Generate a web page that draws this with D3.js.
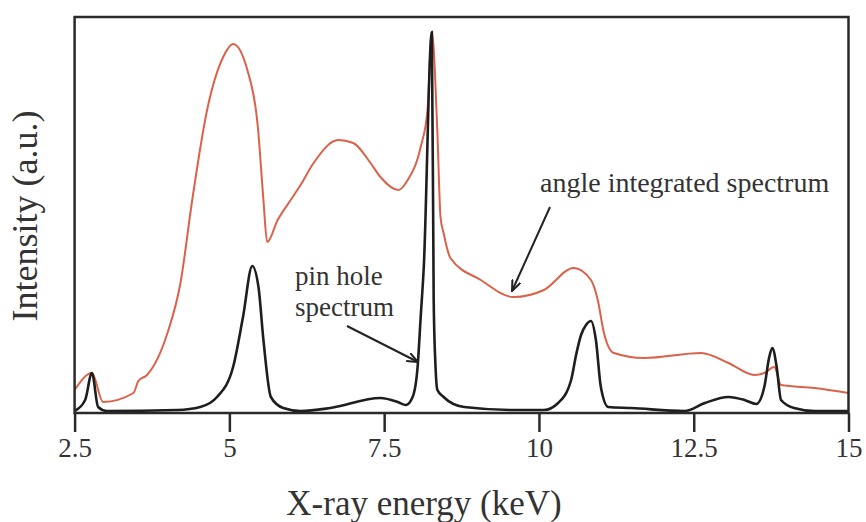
<!DOCTYPE html>
<html>
<head>
<meta charset="utf-8">
<script src="https://cdn.jsdelivr.net/npm/d3@7"></script>
<style>
  body { margin: 0; background: #fff; }
  text { font-family: "Liberation Serif", "DejaVu Serif", serif; fill: #333; }
</style>
</head>
<body>
<svg id="chart" width="866" height="522"></svg>
<script>
// ----- data -----
const xTicks = [2.5, 5, 7.5, 10, 12.5, 15];
const xTickLabels = ["2.5", "5", "7.5", "10", "12.5", "15"];

// angle integrated spectrum (red)
const angleE = [2.5, 2.78, 2.96, 3.45, 3.53, 3.67, 4.0, 4.21, 4.4, 4.64, 4.9, 5.06, 5.29, 5.46, 5.55, 5.61,
  5.78, 5.99, 6.15, 6.36, 6.76, 7.0, 7.28, 7.44, 7.73, 7.88, 8.09, 8.2, 8.27, 8.36, 8.41, 8.46, 8.57,
  9.06, 9.59, 10.08, 10.56, 10.84, 10.95, 11.05, 11.21, 11.7, 12.62, 13.06, 13.48, 13.64, 13.8, 13.91, 14.45, 15.0];
const angleI = [5.25, 9.5, 2.25, 4.5, 7.5, 9, 19.5, 32, 52.75, 75.25, 88.5, 91.75, 85.25, 71, 52.75, 42.25,
  47.75, 52.75, 56.5, 62, 67.75, 67, 62, 58.5, 55.25, 57.75, 66, 75.25, 94.75, 69.5, 48.5, 44.5, 38.25,
  32.75, 28.5, 30.25, 35.75, 32.75, 27.75, 19.5, 14.5, 13.25, 14.5, 12, 9, 9.5, 11, 6.5, 5.75, 4.5];

// pin hole spectrum (black)
const pinE = [2.5, 2.67, 2.78, 2.88, 3.02, 4.16, 4.53, 4.8, 5.06, 5.22, 5.37, 5.47, 5.55, 5.67, 5.87, 6.15,
  6.63, 7.44, 7.72, 7.85, 7.96, 8.04, 8.09, 8.14, 8.27, 8.3, 8.33, 8.36, 8.46, 8.79, 9.59, 10.08, 10.31,
  10.52, 10.6, 10.68, 10.76, 10.84, 10.92, 11.0, 11.12, 11.49, 12.35, 12.68, 13.06, 13.32, 13.51, 13.64,
  13.72, 13.77, 13.84, 13.91, 14.12, 14.45, 15.0];
const pinI = [0, 2.75, 9.5, 1, 0, 0.25, 1, 3.5, 11, 23.5, 36.25, 31, 17.75, 3.5, 0.75, 0,
  0.75, 3.25, 2.25, 1.5, 3.5, 11, 23.5, 36, 94.75, 27.75, 11, 5.25, 3.5, 1, 0.25, 0.25, 2,
  7.75, 14, 19, 21.5, 22.5, 17.75, 6, 1, 0.75, 0, 2, 3.5, 2.75, 1.75, 6,
  13.5, 15.75, 11, 2.75, 0.75, 0, 0];

const svg = d3.select("#chart");
const x = d3.scaleLinear().domain([2.5, 15]).range([74.6, 848.5]);
const y = d3.scaleLinear().domain([-0.5, 98.5]).range([413, 17]);

// arrow marker (open chevron)
svg.append("defs").append("marker")
  .attr("id", "arr")
  .attr("viewBox", "0 0 12 10")
  .attr("refX", 11).attr("refY", 5)
  .attr("markerWidth", 12).attr("markerHeight", 10)
  .attr("markerUnits", "userSpaceOnUse")
  .attr("orient", "auto")
  .append("path")
  .attr("d", "M0,0.5 L11,5 L0,9.5")
  .attr("fill", "none")
  .attr("stroke", "#222")
  .attr("stroke-width", 2);

const line = d3.line().curve(d3.curveMonotoneX).x(d => x(d[0])).y(d => y(d[1]));

// curves
svg.append("path")
  .attr("d", line(angleE.map((e, i) => [e, angleI[i]])))
  .attr("fill", "none").attr("stroke", "#dc6149").attr("stroke-width", 2);

svg.append("path")
  .attr("d", line(pinE.map((e, i) => [e, pinI[i]])))
  .attr("fill", "none").attr("stroke", "#1e1e1e").attr("stroke-width", 2.6);

// frame
svg.append("rect")
  .attr("x", x(2.5)).attr("y", 17)
  .attr("width", x(15) - x(2.5)).attr("height", 413 - 17)
  .attr("fill", "none").attr("stroke", "#2a2a2a").attr("stroke-width", 2.5);

// bottom axis
const xAxis = svg.append("g")
  .attr("transform", "translate(0,413)")
  .call(d3.axisBottom(x).tickValues(xTicks).tickSize(19).tickFormat((d, i) => xTickLabels[i]));
xAxis.select(".domain").remove();
xAxis.selectAll("line").attr("stroke", "#2a2a2a").attr("stroke-width", 2.5);
xAxis.selectAll("text")
  .attr("y", 44).attr("dy", 0)
  .style("font-family", "'Liberation Serif', serif")
  .style("font-size", "27px")
  .attr("fill", "#333");

// axis titles
svg.append("text")
  .attr("x", 424).attr("y", 515)
  .attr("text-anchor", "middle")
  .style("font-size", "35px")
  .text("X-ray energy (keV)");

svg.append("text")
  .attr("transform", "translate(37,216) rotate(-90)")
  .attr("text-anchor", "middle")
  .style("font-size", "36px")
  .text("Intensity (a.u.)");

// annotations
svg.append("text")
  .attr("x", 540).attr("y", 192)
  .style("font-size", "28px")
  .text("angle integrated spectrum");

svg.append("text")
  .attr("x", 295).attr("y", 285)
  .style("font-size", "27px")
  .text("pin hole");
svg.append("text")
  .attr("x", 295).attr("y", 316)
  .style("font-size", "27px")
  .text("spectrum");

svg.append("line")
  .attr("x1", 550).attr("y1", 207).attr("x2", 512).attr("y2", 291)
  .attr("stroke", "#222").attr("stroke-width", 2)
  .attr("marker-end", "url(#arr)");
svg.append("line")
  .attr("x1", 347).attr("y1", 326).attr("x2", 418).attr("y2", 362)
  .attr("stroke", "#222").attr("stroke-width", 2)
  .attr("marker-end", "url(#arr)");
</script>
</body>
</html>
